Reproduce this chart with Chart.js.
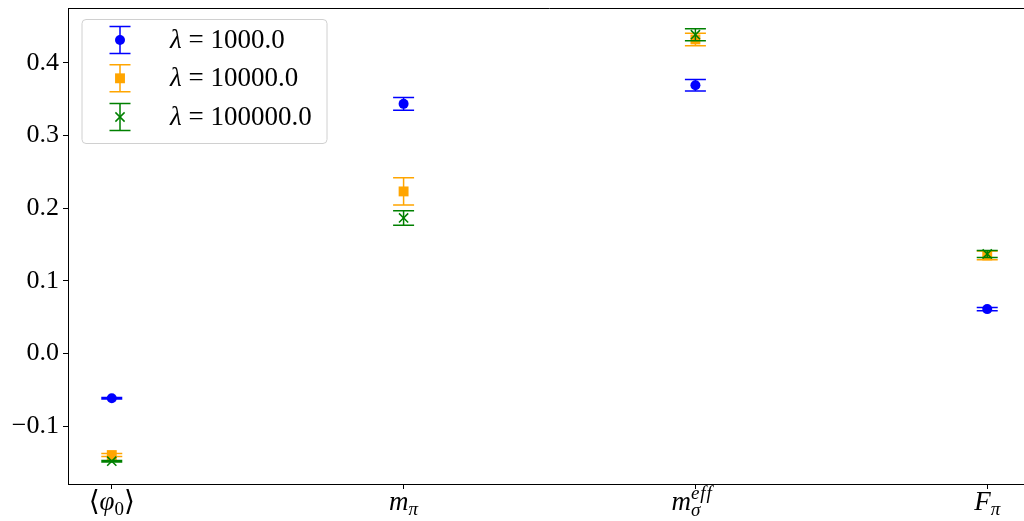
<!DOCTYPE html>
<html>
<head>
<meta charset="utf-8">
<script src="https://cdn.jsdelivr.net/npm/chart.js@4.4.0/dist/chart.umd.min.js"></script>
<style>
  html, body { margin: 0; padding: 0; background: #fff; overflow: hidden; }
  #wrap { width: 1040px; height: 521px; }
</style>
</head>
<body>
<div id="wrap"><canvas id="chart" width="1040" height="521"></canvas></div>
<script>
// categories (x positions 0..3) and the three lambda runs
const categories = ["<phi_0>", "m_pi", "m_sigma^eff", "F_pi"];
const lambdaLabels = ["1000.0", "10000.0", "100000.0"];

const blueVals = [-0.0615, 0.3434, 0.3690, 0.0612];
const blueErr = [0.0010, 0.0089, 0.0078, 0.0023];
const orangeVals = [-0.1395, 0.2230, 0.4320, 0.1350];
const orangeErr = [0.0020, 0.0187, 0.0086, 0.0060];
const greenVals = [-0.1480, 0.1865, 0.4385, 0.1370];
const greenErr = [0.0010, 0.0100, 0.0082, 0.0048];

const yTicks = [-0.1, 0.0, 0.1, 0.2, 0.3, 0.4];

const SERIF = "'Liberation Serif', 'DejaVu Serif', serif";

function toPoints(vals) {
  return vals.map((v, i) => ({ x: i, y: v }));
}

// math-like layout of the x tick labels
const mathLabels = [
  [{ t: "\u27E8", s: 1.05 }, { t: "\u03C6", it: true }, { t: "0", s: 0.7, dy: 5 }, { t: "\u27E9", s: 1.05 }],
  [{ t: "m", it: true }, { t: "\u03C0", it: true, s: 0.7, dy: 5 }],
  [{ t: "m", it: true }, { t: "\u03C3", it: true, s: 0.7, dy: 6 }, { t: "e f f", it: true, s: 0.7, dy: -11, stack: true, sp: true }],
  [{ t: "F", it: true }, { t: "\u03C0", it: true, s: 0.7, dy: 5 }],
];

function partFont(p, size) {
  return (p.it ? "italic " : "") + Math.round(size * (p.s || 1)) + "px " + SERIF;
}

function drawMath(ctx, parts, cx, baseline, size) {
  let prevStart = 0, x = 0;
  const xs = [];
  parts.forEach(p => {
    ctx.font = partFont(p, size);
    const w = ctx.measureText(p.t).width;
    if (p.stack) {
      xs.push(prevStart);
      x = Math.max(x, prevStart + w);
    } else {
      xs.push(x);
      prevStart = x;
      x += w;
    }
  });
  const x0 = cx - x / 2;
  ctx.textAlign = "left";
  ctx.textBaseline = "alphabetic";
  ctx.fillStyle = "#000";
  parts.forEach((p, i) => {
    ctx.font = partFont(p, size);
    if (p.sp) {
      // letters set one by one so "ff" does not form a ligature
      let xx = x0 + xs[i];
      p.t.split(" ").forEach(ch => {
        ctx.fillText(ch, xx, baseline + (p.dy || 0));
        xx += ctx.measureText(ch).width + 1;
      });
    } else {
      ctx.fillText(p.t, x0 + xs[i], baseline + (p.dy || 0));
    }
  });
}

function drawErrSymbol(ctx, color, x, yTop, yBot, capHalf) {
  ctx.save();
  ctx.strokeStyle = color;
  ctx.lineWidth = 1.5;
  ctx.beginPath();
  ctx.moveTo(x, yTop); ctx.lineTo(x, yBot);
  ctx.moveTo(x - capHalf, yTop); ctx.lineTo(x + capHalf, yTop);
  ctx.moveTo(x - capHalf, yBot); ctx.lineTo(x + capHalf, yBot);
  ctx.stroke();
  ctx.restore();
}

const errorBarPlugin = {
  id: "errorBars",
  beforeDatasetDraw(chart, args) {
    const ds = chart.data.datasets[args.index];
    const ctx = chart.ctx;
    const xs = chart.scales.x, ys = chart.scales.y;
    ds.data.forEach((pt, i) => {
      const e = ds.errors[i];
      const px = xs.getPixelForValue(pt.x);
      drawErrSymbol(ctx, ds.borderColor, px, ys.getPixelForValue(pt.y + e), ys.getPixelForValue(pt.y - e), 10.5);
    });
  }
};

const decorPlugin = {
  id: "decor",
  afterDraw(chart) {
    const ctx = chart.ctx;
    const xs = chart.scales.x;
    const area = chart.chartArea;

    // top spine
    ctx.save();
    ctx.strokeStyle = "#000";
    ctx.lineWidth = 1;
    ctx.beginPath();
    ctx.moveTo(area.left, area.top + 0.5);
    ctx.lineTo(area.right, area.top + 0.5);
    ctx.stroke();
    ctx.restore();

    // x tick labels with sub/superscripts
    categories.forEach((c, i) => {
      drawMath(ctx, mathLabels[i], xs.getPixelForValue(i), 510, 27);
    });

    // legend
    const lx = 82, ly = 19.5, lw = 245, lh = 124;
    ctx.save();
    ctx.beginPath();
    ctx.roundRect(lx, ly, lw, lh, 4);
    ctx.fillStyle = "rgba(255,255,255,0.8)";
    ctx.fill();
    ctx.strokeStyle = "#d0d0d0";
    ctx.lineWidth = 1;
    ctx.stroke();
    ctx.restore();

    const rowY = [40, 78.3, 117];
    chart.data.datasets.forEach((ds, i) => {
      const y = rowY[i];
      drawErrSymbol(ctx, ds.borderColor, 120, y - 13.5, y + 13.5, 10.5);
      ctx.save();
      ctx.fillStyle = ds.backgroundColor;
      ctx.strokeStyle = ds.borderColor;
      ctx.lineWidth = ds.borderWidth;
      Chart.helpers.drawPoint(ctx, {
        pointStyle: ds.pointStyle, radius: ds.pointRadius,
        borderWidth: ds.borderWidth, rotation: 0
      }, 120, y);
      ctx.restore();

      ctx.fillStyle = "#000";
      ctx.textBaseline = "middle";
      ctx.textAlign = "left";
      ctx.font = "italic 27px " + SERIF;
      ctx.fillText("\u03BB", 170, y + 1);
      const w = ctx.measureText("\u03BB").width;
      ctx.font = "27px " + SERIF;
      ctx.fillText(" = " + lambdaLabels[i], 170 + w, y + 1);
    });
  }
};

const ctx = document.getElementById("chart").getContext("2d");
new Chart(ctx, {
  type: "scatter",
  data: {
    datasets: [
      {
        label: "\u03BB = " + lambdaLabels[0],
        data: toPoints(blueVals), errors: blueErr,
        borderColor: "#0000ff", backgroundColor: "#0000ff",
        pointStyle: "circle", pointRadius: 5, borderWidth: 0, order: 3
      },
      {
        label: "\u03BB = " + lambdaLabels[1],
        data: toPoints(orangeVals), errors: orangeErr,
        borderColor: "#ffa500", backgroundColor: "#ffa500",
        pointStyle: "rect", pointRadius: 7, borderWidth: 0, order: 2
      },
      {
        label: "\u03BB = " + lambdaLabels[2],
        data: toPoints(greenVals), errors: greenErr,
        borderColor: "#008000", backgroundColor: "#008000",
        pointStyle: "crossRot", pointRadius: 6.5, borderWidth: 1.5, order: 1
      }
    ]
  },
  options: {
    responsive: false,
    animation: false,
    devicePixelRatio: 1,
    layout: { padding: { left: 0, top: 5, right: 9, bottom: 0 } },
    plugins: { legend: { display: false }, tooltip: { enabled: false } },
    scales: {
      x: {
        type: "linear", min: -0.15, max: 3.15,
        afterFit(scale) { scale.height = 37; scale.paddingLeft = 0; scale.paddingRight = 0; },
        afterBuildTicks(scale) { scale.ticks = categories.map((c, i) => ({ value: i })); },
        ticks: { callback: () => "", autoSkip: false },
        grid: { display: true, drawOnChartArea: false, drawTicks: true, tickLength: 5, color: "#000" },
        border: { display: true, color: "#000", width: 1 }
      },
      y: {
        min: -0.1793, max: 0.4752,
        afterFit(scale) { scale.width = 68; scale.paddingTop = 0; scale.paddingBottom = 0; },
        afterBuildTicks(scale) { scale.ticks = yTicks.map(v => ({ value: v })); },
        ticks: {
          color: "#000", padding: 4,
          font: { family: SERIF, size: 26 },
          callback: v => v.toFixed(1).replace("-", "\u2212")
        },
        grid: { display: true, drawOnChartArea: false, drawTicks: true, tickLength: 5, color: "#000" },
        border: { display: true, color: "#000", width: 1 }
      }
    }
  },
  plugins: [errorBarPlugin, decorPlugin]
});
</script>
</body>
</html>
